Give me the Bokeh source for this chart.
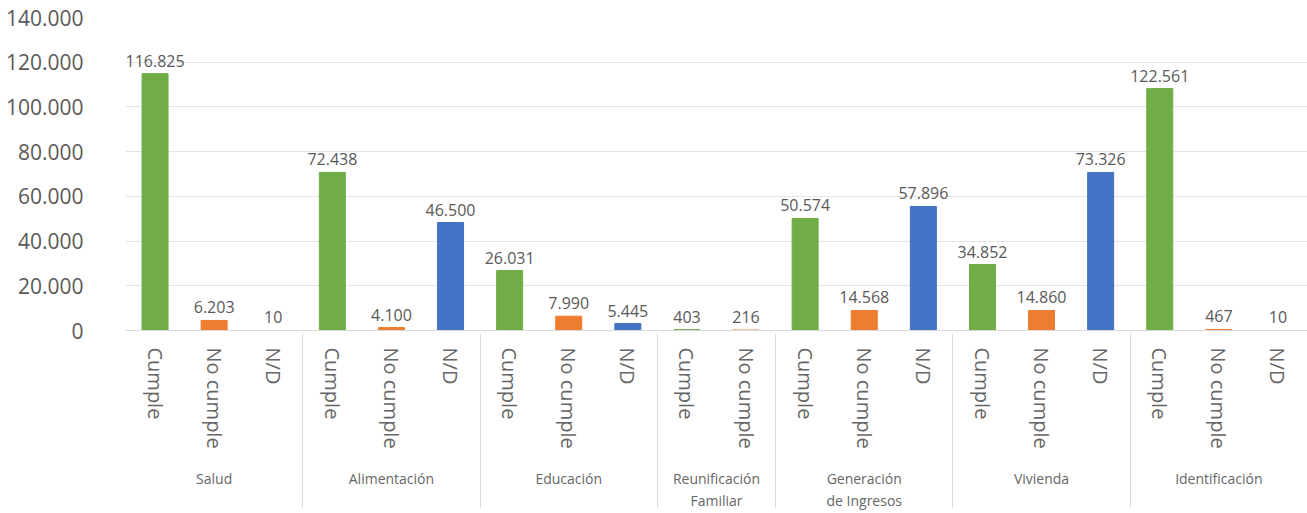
from bokeh.plotting import figure
from bokeh.models import FactorRange, Range1d, FixedTicker, ColumnDataSource, Arrow
from bokeh.core.properties import value
from bokeh.embed import file_html
from bokeh.resources import INLINE

# ---- data ----
grupos = ["Salud", "Alimentación", "Educación", "Reunificación\nFamiliar",
          "Generación\nde Ingresos", "Vivienda", "Identificación"]
subcategorias = [["Cumple", "No cumple", "N/D"],
                 ["Cumple", "No cumple", "N/D"],
                 ["Cumple", "No cumple", "N/D"],
                 ["Cumple", "No cumple"],
                 ["Cumple", "No cumple", "N/D"],
                 ["Cumple", "No cumple", "N/D"],
                 ["Cumple", "No cumple", "N/D"]]

# bar heights as drawn in the picture
cumple_alto = [114900, 70700, 26800, 403, 50100, 29500, 108200]
no_cumple_alto = [4500, 1300, 6400, 216, 8950, 8950, 467]
nd_alto = [10, 48300, 3130, None, 55500, 70700, 10]

# data labels as printed
cumple_etiqueta = ["116.825", "72.438", "26.031", "403", "50.574", "34.852", "122.561"]
no_cumple_etiqueta = ["6.203", "4.100", "7.990", "216", "14.568", "14.860", "467"]
nd_etiqueta = ["10", "46.500", "5.445", None, "57.896", "73.326", "10"]

y_ticks = [0, 20000, 40000, 60000, 80000, 100000, 120000, 140000]
y_tick_labels = ["0", "20.000", "40.000", "60.000", "80.000", "100.000", "120.000", "140.000"]

colores = {"Cumple": "#70AD47", "No cumple": "#ED7D31", "N/D": "#4472C4"}

factors = [(g, s) for g, subs in zip(grupos, subcategorias) for s in subs]

p = figure(x_range=FactorRange(*factors, group_padding=0, factor_padding=0,
                               subgroup_padding=0, range_padding=0),
           y_range=Range1d(0, 140000),
           width=1307, height=513, output_backend="svg", toolbar_location=None,
           min_border_left=125, min_border_right=0, min_border_top=17,
           min_border_bottom=183)

FONT = value("Open Sans")
GRIS = "#595959"
GRIS_X = "#666666"
LINEA = "#d9d9d9"

series = [("Cumple", cumple_alto, cumple_etiqueta),
          ("No cumple", no_cumple_alto, no_cumple_etiqueta),
          ("N/D", nd_alto, nd_etiqueta)]

for nombre, altos, etiquetas in series:
    xs, tops, labs = [], [], []
    for g, h, t in zip(grupos, altos, etiquetas):
        if h is None:
            continue
        xs.append((g, nombre))
        tops.append(h)
        labs.append(t)
    src = ColumnDataSource(dict(x=xs, top=tops, label=labs))
    p.vbar(x="x", top="top", width=0.44, color=colores[nombre], source=src)
    p.text(x="x", y="top", text="label", source=src, text_align="center",
           text_baseline="alphabetic", y_offset=-13, text_font=FONT,
           text_font_size="16px", text_color=GRIS)

# left edge separator of the category axis (below the frame)
p.add_layout(Arrow(start=None, end=None, x_start=0, x_end=0,
                   y_start=0, y_end=-76000, line_color=LINEA, line_width=1))

# y axis
p.yaxis.ticker = FixedTicker(ticks=y_ticks)
p.yaxis.major_label_overrides = {t: l for t, l in zip(y_ticks, y_tick_labels)}
p.yaxis.axis_line_color = None
p.yaxis.major_tick_line_color = None
p.yaxis.minor_tick_line_color = None
p.yaxis.major_label_standoff = 36
p.yaxis.major_label_text_font = "Open Sans"
p.yaxis.major_label_text_font_size = "21px"
p.yaxis.major_label_text_color = GRIS

# x axis
p.xaxis.axis_line_color = LINEA
p.xaxis.major_tick_line_color = None
p.xaxis.major_tick_out = 0
p.xaxis.major_tick_in = 0
p.xaxis.major_label_orientation = "vertical"
p.xaxis.major_label_text_font = "Open Sans"
p.xaxis.major_label_text_font_size = "20px"
p.xaxis.major_label_text_color = GRIS_X
p.xaxis.major_label_standoff = 17
p.xaxis.group_text_font = "Open Sans"
p.xaxis.group_text_font_size = "14px"
p.xaxis.group_text_font_style = "normal"
p.xaxis.group_text_color = GRIS_X
p.xaxis.separator_line_color = LINEA
p.xaxis.separator_line_width = 1

p.xgrid.grid_line_color = None
p.ygrid.grid_line_color = "#e4e4e4"
p.outline_line_color = None

open("out.html", "w").write(file_html(p, INLINE))
